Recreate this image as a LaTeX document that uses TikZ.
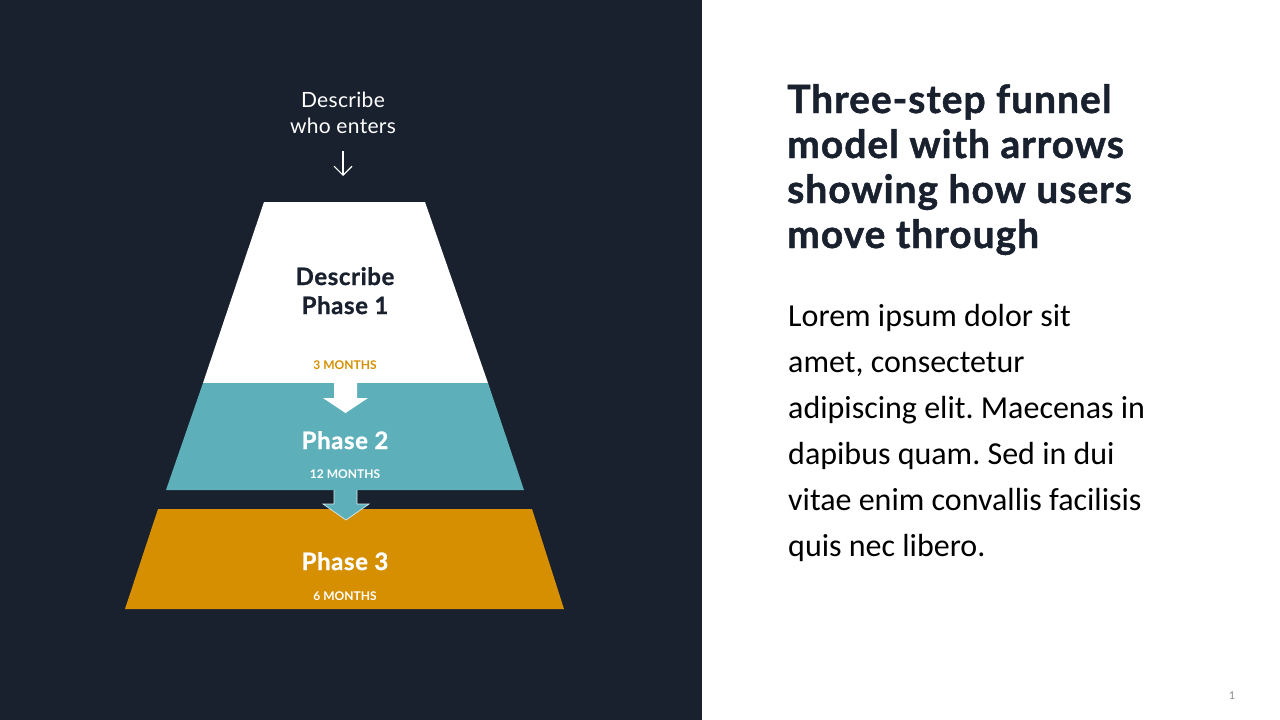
\documentclass[tikz,border=0pt]{standalone}
\usepackage{fontspec}
\setmainfont{Lato}
\newfontfamily\bodyfont{Carlito}
\newfontfamily\titlefont[LetterSpace=2.5, BoldFeatures={FakeBold=1.2}]{Lato}
\newfontfamily\phasefont[LetterSpace=2.5, BoldFeatures={FakeBold=1}]{Lato}
\newfontfamily\thinfont[LetterSpace=1.5]{Lato}
\usetikzlibrary{arrows.meta}
\definecolor{navy}{HTML}{19212E}
\definecolor{teal2}{HTML}{5DAFBA}
\definecolor{amber}{HTML}{D58F00}
\tikzset{
  phase/.style={font=\phasefont\fontsize{24}{29}\selectfont\bfseries, align=center, inner sep=0pt, anchor=base},
  months/.style={font=\fontsize{12}{14}\selectfont\bfseries, inner sep=0pt, anchor=base},
}
\frenchspacing
\begin{document}
\begin{tikzpicture}[x=1pt,y=-1pt]
\useasboundingbox (0,0) rectangle (1280,720);
\fill[white] (0,0) rectangle (1280,720);
\fill[navy] (0,0) rectangle (702,720);
% funnel
\fill[white] (264,202) -- (425,202) -- (488,383) -- (203,383) -- cycle;
\fill[teal2] (203,383) -- (488,383) -- (524,490) -- (166,490) -- cycle;
\fill[amber] (158,509) -- (532,509) -- (564,609) -- (125,609) -- cycle;
% block arrows
\fill[white] (334,383) -- (357,383) -- (357,398) -- (368,398) -- (345.5,413) -- (323,398) -- (334,398) -- cycle;
\fill[teal2] (334,490) -- (357,490) -- (357,504) -- (369,504) -- (346,520) -- (323,504) -- (334,504) -- cycle;
\draw[white!75!teal2, line width=0.7pt] (334,490) -- (334,504) -- (323,504) -- (346,520) -- (369,504) -- (357,504) -- (357,490);
% top label and arrow (base = last line's baseline)
\node[font=\thinfont\fontsize{21}{26}\selectfont, text=white, align=center, inner sep=0pt, anchor=base] (enter) at (343,133) {Describe\\who enters};
\coordinate (ea) at (343,151);
\coordinate (eb) at (343,176);
\draw[white, line width=1.1pt, -{Straight Barb[length=9pt,width=18pt,line width=1.1pt]}] (ea) -- (eb);
% phase labels
\node[phase, text=navy] (p1) at (345,314) {Describe\\Phase 1};
\node[months, text=amber] (m1) at (345,369) {3 MONTHS};
\node[phase, text=white] (p2) at (345,449) {Phase 2};
\node[months, text=white] (m2) at (345,478) {12 MONTHS};
\node[phase, text=white] (p3) at (345,570) {Phase 3};
\node[months, text=white] (m3) at (345,600) {6 MONTHS};
% right side
\node[font=\titlefont\fontsize{39}{45}\selectfont\bfseries, text=navy, align=left, anchor=base west, inner sep=0pt] (title) at (787,248) {Three-step funnel\\model with arrows\\showing how users\\move through};
\node[font=\bodyfont\fontsize{32}{46}\selectfont, text=black, align=left, anchor=base west, inner sep=0pt] (body) at (788,556) {Lorem ipsum dolor sit\\amet, consectetur\\adipiscing elit. Maecenas in\\dapibus quam. Sed in dui\\vitae enim convallis facilisis\\quis nec libero.};
\node[font=\bodyfont\fontsize{12}{14}\selectfont, text=black!45, inner sep=0pt, anchor=base] (pg) at (1232,699) {1};
\end{tikzpicture}
\end{document}
